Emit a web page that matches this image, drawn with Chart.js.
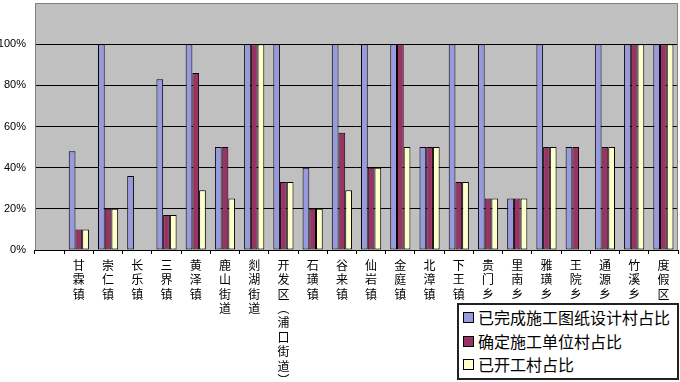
<!DOCTYPE html>
<html><head><meta charset="utf-8">
<script src="https://cdn.jsdelivr.net/npm/chart.js@4"></script>
<style>
html,body{margin:0;padding:0;background:#fff;}
#wrap{position:relative;width:680px;height:382px;}
#legend{position:absolute;left:457px;top:303px;width:214px;height:72px;border:2px solid #222;background:#fff;
font-family:"Noto Sans CJK SC",sans-serif;font-size:16px;line-height:23px;color:#000;padding:1px 0 0 4px;box-sizing:content-box;}
#legend div{white-space:nowrap;display:flex;align-items:center;height:23.5px;}
#legend span.sw{display:inline-block;width:9px;height:9px;border:1px solid #000;margin-right:4px;}
</style></head>
<body><div id="wrap"><canvas id="c" width="680" height="382"></canvas><div id="legend"></div></div>
<script>
const categories = ['', '甘霖镇','崇仁镇','长乐镇','三界镇','黄泽镇','鹿山街道','剡湖街道','开发区︵浦口街道︶','石璜镇','谷来镇','仙岩镇','金庭镇','北漳镇','下王镇','贵门乡','里南乡','雅璜乡','王院乡','通源乡','竹溪乡','度假区'];
const seriesNames = ['已完成施工图纸设计村占比','确定施工单位村占比','已开工村占比'];
const designDone = [null, 48, 100, 36, 83, 100, 50, 100, 100, 40, 100, 100, 100, 50, 100, 100, 25, 100, 50, 100, 100, 100];
const contractor = [null, 10, 20, 0, 17, 86, 50, 100, 33, 20, 57, 40, 100, 50, 33, 25, 25, 50, 50, 50, 100, 100];
const started    = [null, 10, 20, 0, 17, 29, 25, 100, 33, 20, 29, 40, 50, 50, 33, 25, 25, 50, 0, 50, 100, 100];
const yTicks = [0, 20, 40, 60, 80, 100];
const colors = ['#9999DD', '#993366', '#FFFFCC'];

const bgPlugin = {
  id: 'bg',
  beforeDraw(chart) {
    const a = chart.chartArea, ctx = chart.ctx;
    ctx.save();
    ctx.fillStyle = '#C0C0C0';
    ctx.fillRect(a.left, a.top, a.right - a.left, a.bottom - a.top);
    ctx.restore();
  },
  afterDraw(chart) {
    const a = chart.chartArea, ctx = chart.ctx;
    ctx.save();
    ctx.strokeStyle = '#808080';
    ctx.lineWidth = 1;
    ctx.strokeRect(a.left + 0.5, a.top + 0.5, a.right - a.left - 1, a.bottom - a.top);
    ctx.strokeStyle = '#000';
    ctx.beginPath();
    ctx.moveTo(a.left, Math.round(a.bottom) + 0.5);
    ctx.lineTo(a.right, Math.round(a.bottom) + 0.5);
    ctx.stroke();
    ctx.restore();
  }
};

const data = [designDone, contractor, started];
new Chart(document.getElementById('c'), {
  type: 'bar',
  data: {
    labels: categories.map(s => Array.from(s)),
    datasets: seriesNames.map((n, i) => ({
      label: n, data: data[i], backgroundColor: colors[i], borderColor: '#000', borderWidth: 1,
      categoryPercentage: 0.69, barPercentage: 1.0, borderSkipped: false
    }))
  },
  options: {
    responsive: false, animation: false, devicePixelRatio: 1,
    layout: { padding: { top: 3, right: 2, left: 0, bottom: 0 } },
    plugins: { legend: { display: false }, tooltip: { enabled: false } },
    scales: {
      x: {
        offset: true,
        grid: { offset: true, drawOnChartArea: false, color: '#000', tickLength: 4 },
        border: { display: false },
        ticks: { autoSkip: false, maxRotation: 0, minRotation: 0, color: '#000', padding: 4,
          font: { family: '"Noto Sans CJK SC", sans-serif', size: 12, lineHeight: 1.2 } },
        afterFit(s) { s.height = 132; s.paddingLeft = 0; s.paddingRight = 0; }
      },
      y: {
        min: 0, max: 120,
        afterBuildTicks(s) { s.ticks = yTicks.concat([120]).map(v => ({ value: v })); },
        grid: { color: c => c.tick && c.tick.value === 120 ? 'rgba(0,0,0,0)' : '#000', drawTicks: false },
        border: { display: false },
        ticks: { color: '#000', padding: 9, callback: v => v === 120 ? '' : v + '%',
          font: { family: '"Liberation Sans", Arial, sans-serif', size: 11 } },
        afterFit(s) { s.width = 35; s.paddingTop = 0; s.paddingBottom = 0; }
      }
    }
  },
  plugins: [bgPlugin]
});

const lg = document.getElementById('legend');
seriesNames.forEach((n, i) => {
  const d = document.createElement('div');
  const sw = document.createElement('span');
  sw.className = 'sw'; sw.style.background = colors[i];
  d.appendChild(sw);
  d.appendChild(document.createTextNode(n));
  lg.appendChild(d);
});
</script>
</body></html>
